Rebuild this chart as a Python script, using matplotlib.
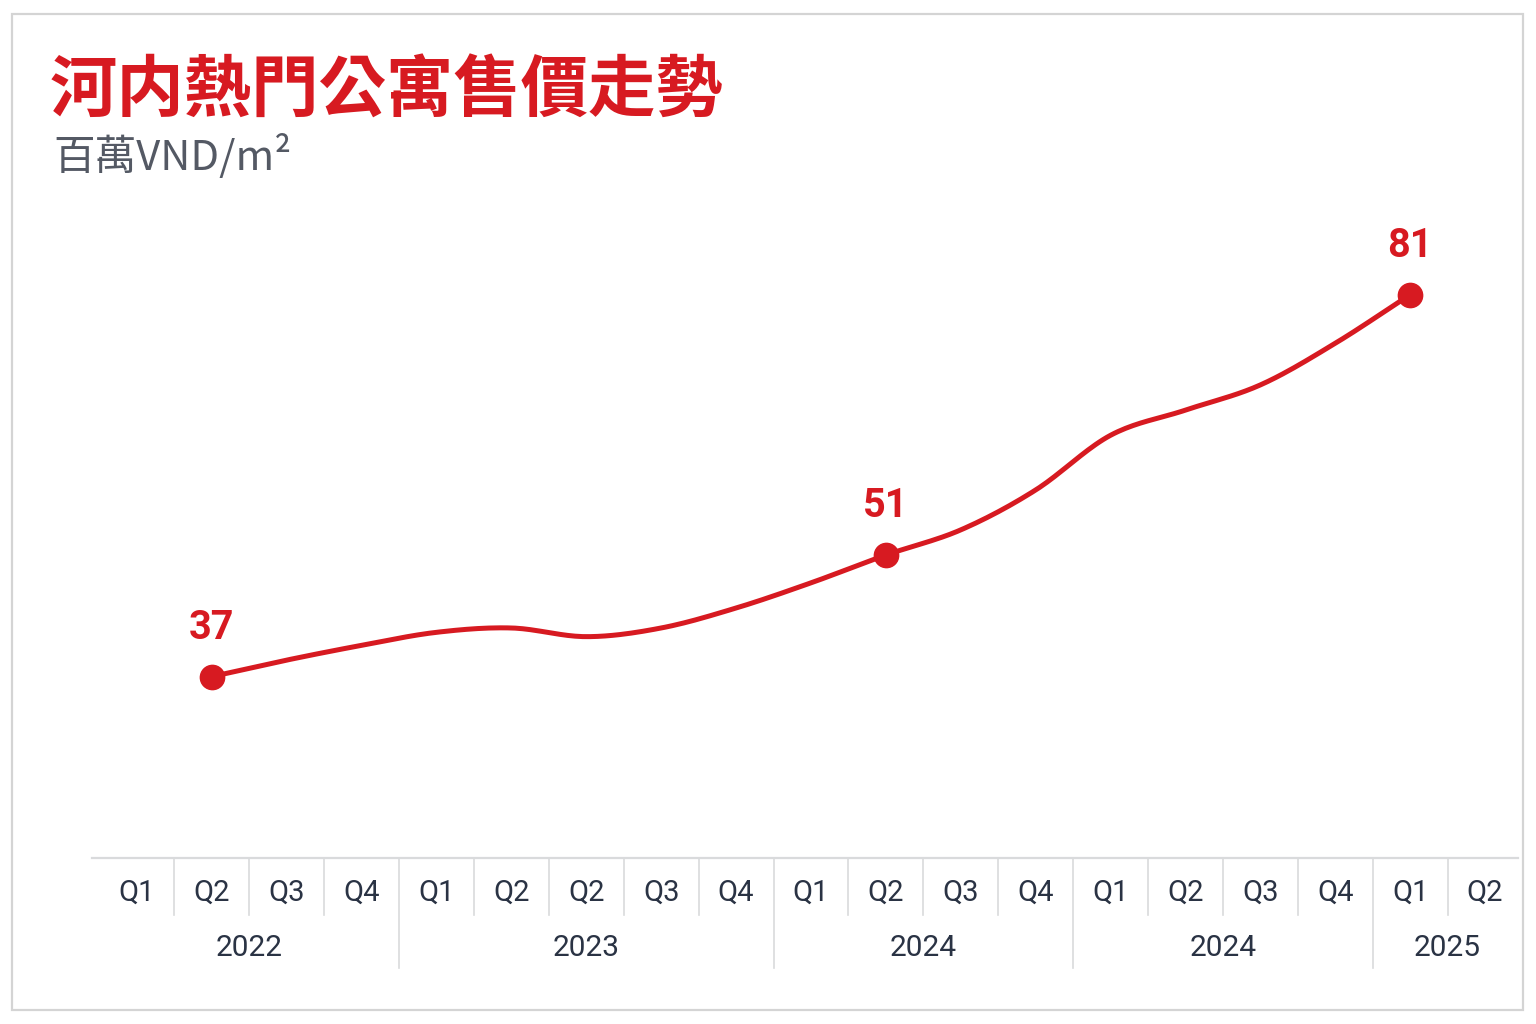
import numpy as np
import matplotlib
matplotlib.use("Agg")
import matplotlib.pyplot as plt
from matplotlib.patches import Rectangle

plt.rcParams['font.family'] = ['Noto Sans CJK TC', 'DejaVu Sans']

# data
quarters = ["Q1", "Q2", "Q3", "Q4",
            "Q1", "Q2", "Q2", "Q3", "Q4",
            "Q1", "Q2", "Q3", "Q4",
            "Q1", "Q2", "Q3", "Q4",
            "Q1", "Q2"]
years = ["2022", "2023", "2024", "2024", "2025"]
year_sizes = [4, 5, 4, 4, 2]
price = [np.nan, 37, 38.9, 40.6, 42.1, 42.6, 41.6, 42.6, 44.9, 47.8,
         51, 53.9, 58.5, 64.8, 67.7, 70.6, 75.4, 81, np.nan]
labeled = [1, 10, 17]

RED = "#d71a21"
INK = "#2a3344"
GRID = "#d9dadc"


def catmull_rom(x, y, n=20):
    # smooth path through the points, for drawing only
    px = np.concatenate([[2 * x[0] - x[1]], x, [2 * x[-1] - x[-2]]])
    py = np.concatenate([[2 * y[0] - y[1]], y, [2 * y[-1] - y[-2]]])
    xs, ys = [], []
    t = np.linspace(0, 1, n, endpoint=False)
    for i in range(1, len(px) - 2):
        for arr, out in ((px, xs), (py, ys)):
            p0, p1, p2, p3 = arr[i - 1], arr[i], arr[i + 1], arr[i + 2]
            out.extend(0.5 * (2 * p1 + (-p0 + p2) * t
                              + (2 * p0 - 5 * p1 + 4 * p2 - p3) * t ** 2
                              + (-p0 + 3 * p1 - 3 * p2 + p3) * t ** 3))
    xs.append(x[-1])
    ys.append(y[-1])
    return np.array(xs), np.array(ys)


fig = plt.figure(figsize=(15.36, 10.24), dpi=100)
fig.patch.set_facecolor("white")
fig.patches.append(Rectangle((12 / 1536, 1 - 1010 / 1024), 1511 / 1536, 996 / 1024,
                             transform=fig.transFigure, fill=False,
                             edgecolor="#d4d4d4", linewidth=1.6))

ax = fig.add_axes([92 / 1536, 1 - 858 / 1024, 1426 / 1536, 638 / 1024])
ax.set_xlim(-0.6, len(quarters) - 0.56)
ax.set_ylim(16.1, 89.6)
for s in ["top", "right", "left"]:
    ax.spines[s].set_visible(False)
ax.spines["bottom"].set_color(GRID)
ax.spines["bottom"].set_linewidth(1.6)
ax.set_xticks([])
ax.set_yticks([])

idx = np.arange(len(quarters))
vals = np.array(price, dtype=float)
ok = ~np.isnan(vals)
sx, sy = catmull_rom(idx[ok].astype(float), vals[ok])
ax.plot(sx, sy, color=RED, linewidth=3.6, solid_capstyle="round", zorder=3)
ax.plot(idx[labeled], vals[labeled], "o", color=RED, markersize=17.5, zorder=4)
for i in labeled:
    ax.annotate(f"{vals[i]:.0f}", (idx[i], vals[i]), xytext=(0, 35),
                textcoords="offset points", ha="center", va="center",
                fontsize=28.5, fontweight="bold", color=RED, family="Roboto")

# category axis drawn by hand
tr = ax.get_xaxis_transform()
for i, q in enumerate(quarters):
    ax.text(i, -0.054, q, transform=tr, ha="center", va="center",
            fontsize=21, color=INK, family="Roboto")
bounds = np.cumsum([0] + year_sizes)
for i in range(1, len(quarters)):
    long = i in bounds
    ax.plot([i - 0.5, i - 0.5], [0, -0.172 if long else -0.089], transform=tr,
            color=GRID, linewidth=1.2, clip_on=False)
for y, a, b in zip(years, bounds[:-1], bounds[1:]):
    ax.text((a + b - 1) / 2, -0.141, y, transform=tr, ha="center", va="center",
            fontsize=21.5, color=INK, family="Roboto")

fig.text(50 / 1536, 1 - 92 / 1024, "河内熱門公寓售價走勢", fontsize=48.5,
         fontweight="bold", color=RED, va="center", ha="left")
fig.text(53 / 1536, 1 - 156 / 1024, "百萬VND/m²", fontsize=30,
         fontweight="light", color="#545964", va="center", ha="left")

fig.savefig("out.png", dpi=100, facecolor="white")
